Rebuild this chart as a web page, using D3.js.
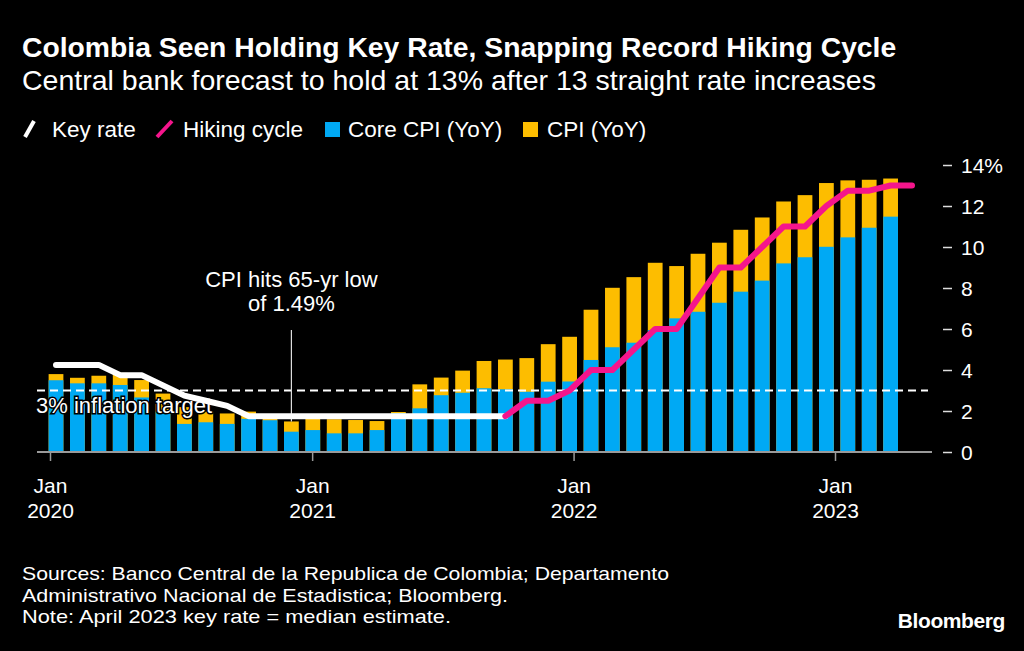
<!DOCTYPE html>
<html>
<head>
<meta charset="utf-8">
<style>
  body { margin: 0; background: #000; }
  svg { display: block; font-family: "Liberation Sans", Arial, Helvetica, sans-serif; }
  .title { font-size: 28.3px; font-weight: bold; fill: #fff; }
  .subtitle { font-size: 28.5px; fill: #fff; }
  .legend text { font-size: 22.5px; fill: #fff; }
  .axis text { font-size: 21px; fill: #fff; font-family: "Liberation Sans", Arial, sans-serif; }
  .note { font-size: 22px; fill: #fff; }
  .footer { font-size: 19px; fill: #fff; }
</style>
</head>
<body>
<script src="https://cdn.jsdelivr.net/npm/d3@7"></script>
<script>
var width = 1024, height = 651;

// one entry per month, Dec 2019 .. Apr 2023
var months = ["2019-12",
  "2020-01","2020-02","2020-03","2020-04","2020-05","2020-06","2020-07","2020-08","2020-09","2020-10","2020-11","2020-12",
  "2021-01","2021-02","2021-03","2021-04","2021-05","2021-06","2021-07","2021-08","2021-09","2021-10","2021-11","2021-12",
  "2022-01","2022-02","2022-03","2022-04","2022-05","2022-06","2022-07","2022-08","2022-09","2022-10","2022-11","2022-12",
  "2023-01","2023-02","2023-03","2023-04"];

// CPI YoY, Dec 2019 .. Mar 2023
var cpi = [3.80, 3.62, 3.72, 3.86, 3.51, 2.85, 2.19, 1.97, 1.88, 1.97, 1.75, 1.49, 1.61,
  1.60, 1.56, 1.51, 1.95, 3.30, 3.63, 3.97, 4.44, 4.51, 4.58, 5.26, 5.62,
  6.94, 8.01, 8.53, 9.23, 9.07, 9.67, 10.21, 10.84, 11.44, 12.22, 12.53, 13.12,
  13.25, 13.28, 13.34];

// core CPI YoY, Dec 2019 .. Mar 2023
var coreCpi = [3.50, 3.35, 3.35, 3.27, 2.66, 1.97, 1.37, 1.45, 1.37, 1.62, 1.55, 0.99, 1.07,
  0.91, 0.91, 1.07, 1.89, 2.13, 2.77, 2.89, 3.11, 3.06, 2.94, 3.43, 3.44,
  4.49, 5.11, 5.33, 5.95, 6.52, 6.84, 7.28, 7.82, 8.36, 9.20, 9.50, 10.01,
  10.47, 10.94, 11.48];

// key rate, Dec 2019 .. Sep 2021
var keyRate = [4.25, 4.25, 4.25, 3.75, 3.75, 3.25, 2.75, 2.5, 2.25, 1.75, 1.75,
  1.75, 1.75, 1.75, 1.75, 1.75, 1.75, 1.75, 1.75, 1.75, 1.75, 1.75];

// hiking cycle, Sep 2021 .. Apr 2023
var hikingCycle = [1.75, 2.5, 2.5, 3.0, 4.0, 4.0, 5.0, 6.0, 6.0, 7.5, 9.0, 9.0,
  10.0, 11.0, 11.0, 12.0, 12.75, 12.75, 13.0, 13.0];

var yTicks = [0, 2, 4, 6, 8, 10, 12, 14];
var xTickYears = [2020, 2021, 2022, 2023];
var inflationTarget = 3;

var blue = "#00a9f4", yellow = "#fdbd00", pink = "#f5158c";

var svg = d3.select("body").append("svg")
    .attr("width", width)
    .attr("height", height)
    .style("background", "#000");

var x = d3.scaleBand()
    .domain(months)
    .range([45.3, 922.7])
    .paddingInner(0.31)
    .paddingOuter(0.155);

function xc(m) { return x(m) + x.bandwidth() / 2; }

var xTime = d3.scaleTime()
    .domain([new Date(2020, 0, 1), new Date(2023, 0, 1)])
    .range([50, 835]);

var y = d3.scaleLinear()
    .domain([0, 14])
    .range([452, 165]);

// bars: CPI behind, core CPI in front
var barMonths = months.slice(0, cpi.length);

svg.append("g").selectAll("rect")
    .data(barMonths)
  .enter().append("rect")
    .attr("x", function(d) { return x(d); })
    .attr("width", x.bandwidth())
    .attr("y", function(d, i) { return y(cpi[i]); })
    .attr("height", function(d, i) { return y(0) - y(cpi[i]); })
    .attr("fill", yellow);

svg.append("g").selectAll("rect")
    .data(barMonths)
  .enter().append("rect")
    .attr("x", function(d) { return x(d); })
    .attr("width", x.bandwidth())
    .attr("y", function(d, i) { return y(coreCpi[i]); })
    .attr("height", function(d, i) { return y(0) - y(coreCpi[i]); })
    .attr("fill", blue);

// x axis
svg.append("line")
    .attr("x1", 37).attr("x2", 932)
    .attr("y1", y(0)).attr("y2", y(0))
    .attr("stroke", "#9a9a9a")
    .attr("stroke-width", 2);

var xAxis = svg.append("g")
    .attr("class", "axis")
    .attr("transform", "translate(0," + (y(0) + 1) + ")")
    .call(d3.axisBottom(xTime)
      .tickValues(xTickYears.map(function(yr) { return new Date(yr, 0, 1); }))
      .tickSize(8)
      .tickFormat(""));
xAxis.select(".domain").remove();
xAxis.selectAll(".tick line").attr("stroke", "#9a9a9a").attr("stroke-width", 1.5);
xAxis.selectAll(".tick").append("text")
    .attr("text-anchor", "middle")
    .attr("fill", "#fff")
    .each(function(d) {
      var t = d3.select(this);
      t.append("tspan").attr("x", 0).attr("y", 40).text("Jan");
      t.append("tspan").attr("x", 0).attr("y", 65).text(d.getFullYear());
    });

// y axis on the right
var yAxis = svg.append("g")
    .attr("class", "axis")
    .attr("transform", "translate(943,0)")
    .call(d3.axisRight(y)
      .tickValues(yTicks)
      .tickSize(9)
      .tickPadding(9)
      .tickFormat(function(d) { return d === 14 ? "14%" : d; }));
yAxis.select(".domain").remove();
yAxis.selectAll(".tick line").attr("stroke", "#ddd").attr("stroke-width", 1.5);
yAxis.selectAll(".tick text").attr("dy", "0.35em");

// 3% inflation target
svg.append("line")
    .attr("x1", 37).attr("x2", 928)
    .attr("y1", y(inflationTarget)).attr("y2", y(inflationTarget))
    .attr("stroke", "#fff")
    .attr("stroke-width", 2)
    .attr("stroke-dasharray", "8,5");

svg.append("text")
    .attr("class", "note")
    .attr("x", 36)
    .attr("y", 413)
    .attr("font-size", 22.7)
    .attr("stroke", "#000")
    .attr("stroke-width", 3)
    .attr("paint-order", "stroke")
    .text("3% inflation target");

// annotation for the 65-year low
var lowIdx = cpi.indexOf(d3.min(cpi));
svg.append("line")
    .attr("x1", xc(months[lowIdx])).attr("x2", xc(months[lowIdx]))
    .attr("y1", 330).attr("y2", y(cpi[lowIdx]))
    .attr("stroke", "#ddd")
    .attr("stroke-width", 1.2);

svg.append("text")
    .attr("class", "note")
    .attr("text-anchor", "middle")
    .selectAll("tspan")
    .data(["CPI hits 65-yr low", "of 1.49%"])
  .enter().append("tspan")
    .attr("x", xc(months[lowIdx]))
    .attr("y", function(d, i) { return 287 + i * 23.5; })
    .text(function(d) { return d; });

// rate lines
var line = d3.line()
    .x(function(d) { return xc(d.m); })
    .y(function(d) { return y(d.v); });

var keyData = keyRate.map(function(v, i) { return {m: months[i], v: v}; });
var hikeStart = keyRate.length - 1;
var hikeData = hikingCycle.map(function(v, i) { return {m: months[hikeStart + i], v: v}; });

svg.append("path")
    .attr("d", line(keyData))
    .attr("fill", "none")
    .attr("stroke", "#fff")
    .attr("stroke-width", 6)
    .attr("stroke-linecap", "round")
    .attr("stroke-linejoin", "round");

svg.append("path")
    .attr("d", line(hikeData))
    .attr("fill", "none")
    .attr("stroke", pink)
    .attr("stroke-width", 6)
    .attr("stroke-linecap", "round")
    .attr("stroke-linejoin", "round");

// title
svg.append("text")
    .attr("class", "title")
    .attr("x", 22).attr("y", 57)
    .text("Colombia Seen Holding Key Rate, Snapping Record Hiking Cycle");

svg.append("text")
    .attr("class", "subtitle")
    .attr("x", 22).attr("y", 90)
    .text("Central bank forecast to hold at 13% after 13 straight rate increases");

// legend
var legend = svg.append("g").attr("class", "legend");

legend.append("line")
    .attr("x1", 25).attr("y1", 137).attr("x2", 34).attr("y2", 121)
    .attr("stroke", "#fff").attr("stroke-width", 4);
legend.append("text").attr("x", 52).attr("y", 137).text("Key rate");

legend.append("line")
    .attr("x1", 157).attr("y1", 137).attr("x2", 172).attr("y2", 121)
    .attr("stroke", pink).attr("stroke-width", 4);
legend.append("text").attr("x", 183).attr("y", 137).text("Hiking cycle");

legend.append("rect")
    .attr("x", 325).attr("y", 122).attr("width", 15).attr("height", 15)
    .attr("fill", blue);
legend.append("text").attr("x", 348).attr("y", 137).text("Core CPI (YoY)");

legend.append("rect")
    .attr("x", 523).attr("y", 122).attr("width", 15).attr("height", 15)
    .attr("fill", yellow);
legend.append("text").attr("x", 547).attr("y", 137).text("CPI (YoY)");

// footer: the source font is wider than ours, so stretch each line a little
var footerLines = [
  {text: "Sources: Banco Central de la Republica de Colombia; Departamento", w: 647},
  {text: "Administrativo Nacional de Estadistica; Bloomberg.", w: 486},
  {text: "Note: April 2023 key rate = median estimate.", w: 429}
];

svg.selectAll(".footer")
    .data(footerLines)
  .enter().append("text")
    .attr("class", "footer")
    .attr("x", 22)
    .attr("y", function(d, i) { return 580 + i * 21.5; })
    .attr("textLength", function(d) { return d.w; })
    .attr("lengthAdjust", "spacingAndGlyphs")
    .text(function(d) { return d.text; });

svg.append("text")
    .attr("x", 1005).attr("y", 628)
    .attr("text-anchor", "end")
    .attr("font-size", 21)
    .attr("font-weight", "bold")
    .attr("letter-spacing", -0.4)
    .attr("fill", "#fff")
    .text("Bloomberg");
</script>
</body>
</html>
